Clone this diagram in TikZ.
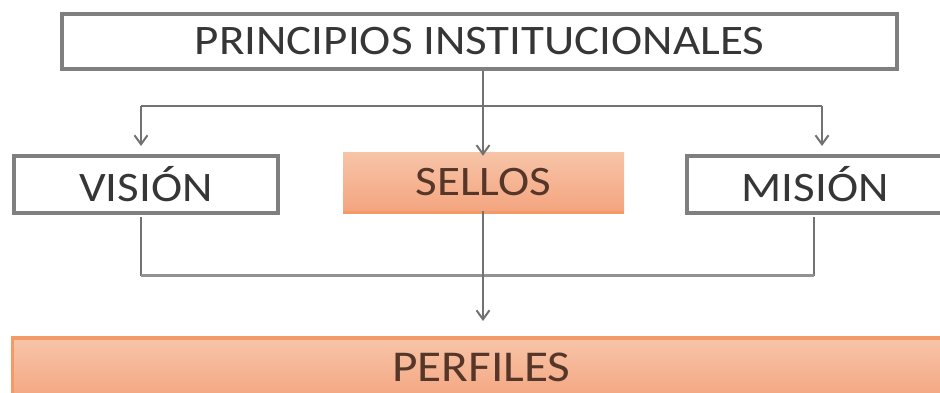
\documentclass[tikz,border=0pt]{standalone}
\usepackage{fontspec}
\usepackage{graphicx}
\setmainfont{Carlito}
\usetikzlibrary{arrows.meta}
\definecolor{boxgrey}{HTML}{7F7F7F}
\definecolor{linegrey}{HTML}{727272}
\definecolor{txtgrey}{HTML}{363636}
\definecolor{orTop}{HTML}{F7C4A7}
\definecolor{orBot}{HTML}{F4A580}
\definecolor{orLine}{HTML}{F39A66}
\definecolor{txtbrown}{HTML}{553628}
\newcommand{\lbl}[1]{\scalebox{1.12}[1]{#1}}
\begin{document}
\begin{tikzpicture}[x=1pt,y=-1pt,
  greybox/.style={draw=boxgrey,line width=4pt,fill=white,inner sep=0pt,
    text=txtgrey,font=\fontsize{42}{42}\selectfont},
  orbox/.style={top color=orTop,bottom color=orBot,draw=none,inner sep=0pt,
    text=txtbrown,font=\fontsize{42}{42}\selectfont},
  conn/.style={draw=linegrey,line width=2.2pt},
  arr/.style={conn,-{Straight Barb[length=9pt,width=13pt,line width=2pt]}}]
\useasboundingbox (0,0) rectangle (940,393);
% boxes
\node[greybox,minimum width=835pt,minimum height=55pt] (top) at (479.5,41.5) {\lbl{PRINCIPIOS INSTITUCIONALES}};
\node[greybox,minimum width=264pt,minimum height=57pt] (vis) at (146,184.5) {\lbl{VISIÓN}};
\node[orbox,minimum width=281pt,minimum height=58pt] (sel) at (483.5,182) {\lbl{SELLOS}};
\draw[orLine,line width=3pt] ([yshift=-1.5pt]sel.south west) -- ([yshift=-1.5pt]sel.south east);
\node[greybox,minimum width=257pt,minimum height=57pt] (mis) at (815,184.5) {\lbl{MISIÓN}};
\node[orbox,minimum width=941pt,minimum height=60pt] (per) at (481.5,370) {};
\draw[orLine,line width=4pt] ([yshift=2pt]per.north west) -- ([yshift=2pt]per.north east);
\draw[orLine,line width=3pt] ([xshift=1.5pt]per.north west) -- ([xshift=1.5pt]per.south west);
\node[text=txtbrown,font=\fontsize{44}{44}\selectfont,inner sep=0pt] (pertxt) at (481.5,367) {\lbl{PERFILES}};
% connector coordinates
\coordinate (branch) at (483,106);
\coordinate (bl) at (141,106);
\coordinate (br) at (822,106);
\coordinate (blt) at (141,146);
\coordinate (brt) at (822,146);
\coordinate (vb) at (141,275.5);
\coordinate (mb) at (814,275.5);
\coordinate (selbot) at (483,275.5);
\coordinate (pertip) at (483,321);
% connectors
\draw[arr] (top.south -| branch) -- ([yshift=-3pt]sel.north -| branch);
\draw[conn] (bl) -- (br);
\draw[arr] (bl) -- (blt);
\draw[arr] (br) -- (brt);
\draw[conn,line width=2pt] ([yshift=-2pt]vis.south -| vb) -- (vb);
\draw[conn,line width=2pt] ([yshift=-2pt]mis.south -| mb) -- (mb);
\draw[draw=boxgrey!85,line width=3.5pt] (vb) -- (mb);
\draw[arr] (sel.south -| selbot) -- (pertip);
\end{tikzpicture}
\end{document}
